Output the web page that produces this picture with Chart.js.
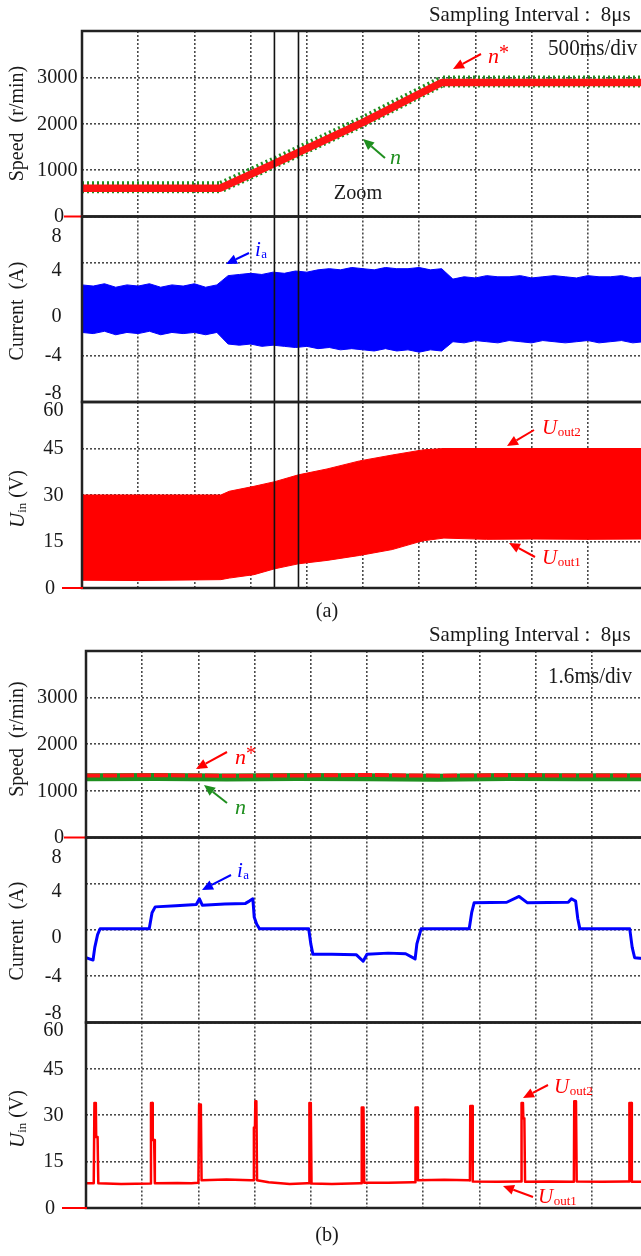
<!DOCTYPE html>
<html><head><meta charset="utf-8">
<script src="https://cdn.jsdelivr.net/npm/chart.js@4.4.1/dist/chart.umd.min.js"></script>
<style>
html,body{margin:0;padding:0;background:#fff;overflow:hidden;}
#wrap{position:relative;width:641px;height:1256px;overflow:hidden;background:#fff;}
#wrap canvas{position:absolute;left:0;top:0;}
</style></head><body>
<div id="wrap">
<canvas id="aSpeed" width="700" height="1256"></canvas>
<canvas id="aCurrent" width="700" height="1256"></canvas>
<canvas id="aVolt" width="700" height="1256"></canvas>
<canvas id="bSpeed" width="700" height="1256"></canvas>
<canvas id="bCurrent" width="700" height="1256"></canvas>
<canvas id="bVolt" width="700" height="1256"></canvas>
</div>
<script>
// ================= DATA =================
// ---- figure (a): 500 ms/div, time in ms ----
const gridTimeA = [0,500,1000,1500,2000,2500,3000,3500,4000,4500,5000];
const speedTimeA = [0, 1230, 1710, 2500, 3200, 5000];
const speedRefA  = [610, 610, 1140, 2030, 2890, 2890];   // n*
const speedMeasA = [630, 630, 1160, 2050, 2910, 2910];   // n
const currentTimeA = [0,100,200,300,400,500,600,700,800,900,1000,1100,1200,1300,1400,1500,1600,1700,1800,1900,2000,2100,2200,2300,2400,2500,2600,2700,2800,2900,3000,3100,3200,3300,3400,3500,3600,3700,3800,3900,4000,4100,4200,4300,4400,4500,4600,4700,4800,4900,5000];
const currentUpperA = [2.1,2.0,2.2,1.9,2.1,2.0,2.2,1.9,2.1,2.0,2.2,1.9,2.1,2.9,3.0,3.1,3.0,3.2,3.1,3.3,3.2,3.4,3.5,3.4,3.6,3.5,3.4,3.6,3.5,3.5,3.6,3.4,3.5,2.6,2.8,2.7,2.9,2.8,2.8,2.9,2.7,2.8,2.9,2.8,2.7,2.9,2.8,2.8,2.9,2.7,2.8];
const currentLowerA = [-2.0,-2.1,-1.9,-2.2,-2.0,-2.1,-1.9,-2.2,-2.0,-2.1,-2.0,-2.2,-2.0,-3.0,-3.1,-3.0,-3.2,-3.1,-3.2,-3.3,-3.2,-3.4,-3.3,-3.5,-3.4,-3.5,-3.6,-3.4,-3.6,-3.5,-3.7,-3.5,-3.6,-2.8,-2.9,-2.7,-2.8,-2.9,-2.7,-2.8,-2.9,-2.7,-2.8,-2.9,-2.8,-2.7,-2.9,-2.8,-2.7,-2.9,-2.8];
const voltTimeA  = [0, 500, 1000, 1235, 1310, 1530, 1715, 1925, 2180, 2470, 2760, 2990, 3050, 3220, 3600, 4000, 4500, 5000];
const voltUpperA = [30, 30, 30, 30, 31.2, 32.8, 34.3, 36.5, 38.4, 41, 42.9, 44.3, 44.6, 45, 45, 45, 45, 45];   // Uout2
const voltLowerA = [2.5, 2.4, 2.6, 2.7, 3.2, 4.3, 6.2, 7.8, 8.9, 10.5, 12.4, 14.8, 15.3, 16.1, 15.7, 15.8, 15.7, 15.8]; // Uout1
const zoomWindowA = [1712, 1926];

// ---- figure (b): 1.6 ms/div, time in ms ----
const gridTimeB = [0,1.6,3.2,4.8,6.4,8,9.6,11.2,12.8,14.4,16];
const speedTimeB = [0,2,4,6,8,10,12,14,16];
const speedRefB  = [1330,1335,1325,1330,1340,1325,1335,1330,1330];  // n*
const speedMeasB = [1290,1295,1285,1300,1290,1280,1295,1290,1290];  // n
const iaTimeB = [0,0.2,0.25,0.33,0.4,1.80,1.88,1.97,2.56,3.14,3.23,3.31,3.95,4.54,4.65,4.75,4.79,4.86,4.94,6.34,6.40,6.46,7.0,7.7,7.89,8.0,8.6,9.1,9.37,9.42,9.54,10.91,10.98,11.05,11.98,12.33,12.57,13.73,13.82,13.94,14.0,14.06,15.48,15.55,15.62,16];
const iaValB  = [-2.4,-2.6,-1.5,-0.4,0.1,0.1,1.5,2.0,2.1,2.2,2.7,2.15,2.25,2.3,2.5,2.7,1.1,0.5,0.1,0.1,-1.2,-2.1,-2.1,-2.15,-2.7,-2.1,-2.0,-2.05,-2.5,-1.2,0.1,0.1,1.5,2.35,2.4,2.9,2.35,2.4,2.7,2.5,1.0,0.1,0.1,-1.5,-2.4,-2.5];
const uTimeB = [0,0.22,0.24,0.28,0.29,0.33,0.35,1.0,1.83,1.85,1.89,1.90,1.94,1.96,2.6,3.0,3.20,3.22,3.27,3.29,4.0,4.7,4.77,4.78,4.81,4.82,4.85,4.87,5.2,5.8,6.3,6.35,6.36,6.40,6.42,7.0,7.8,7.84,7.85,7.90,7.92,8.6,9.3,9.37,9.38,9.43,9.45,10.2,10.9,10.93,10.94,10.99,11.01,11.7,12.35,12.39,12.40,12.44,12.45,12.48,12.50,13.2,13.85,13.89,13.90,13.95,13.97,14.7,15.4,15.46,15.47,15.52,15.54,16];
const uValB  = [8.0,8.0,34,34,23,23,8.0,7.8,7.9,34,34,22,22,8.0,8.1,8.0,8.2,33.5,33.5,9.0,9.2,9.0,9.0,26,26,34.5,34.5,9.0,8.3,7.8,8.0,8.0,34,34,7.9,7.8,8.0,8.0,32.5,32.5,8.2,8.2,8.3,8.3,32.5,32.5,9.0,9.1,9.0,8.9,33,33,8.6,8.5,8.6,8.6,34,34,29,29,8.5,8.6,8.5,8.5,34.5,34.5,8.6,8.5,8.6,8.6,34,34,8.5,8.5];

// ---- axis ticks ----
const speedTicks = [0,1000,2000,3000,4000];
const speedLabels = [0,1000,2000,3000];
const currentTicks = [-8,-4,0,4,8];
const currentLabels = [8,4,0,-4,-8];
const voltTicks = [0,15,30,45,60];
const voltLabels = [60,45,30,15,0];

// ================= DRAWING =================
const W = 700, H = 1256;
const FONT = '"Liberation Serif","Times New Roman",serif';
const RED = '#ff0000', BLUE = '#0000ff', GREEN = '#1f8f1f';

function pts(t, v){ return t.map((x,i)=>({x:x, y:v[i]})); }

// text helper; hs = horizontal squeeze of the glyphs
function T(ctx, s, x, y, o){
  o = o || {};
  const hs = o.hs || 1;
  ctx.save();
  ctx.font = (o.style||'') + ' ' + (o.size||20) + 'px ' + FONT;
  ctx.fillStyle = o.color || '#1a1a1a';
  ctx.textAlign = o.align || 'left';
  ctx.textBaseline = o.base || 'middle';
  ctx.translate(x, y); ctx.scale(hs, 1);
  ctx.fillText(s, 0, 0);
  const w = ctx.measureText(s).width * hs;
  ctx.restore();
  return w;
}
const TICK = {size:22, hs:0.92};
function subLabel(ctx, main, sub, x, y, color){
  const w = T(ctx, main, x, y, {size:21, style:'italic', color:color});
  T(ctx, sub, x + w + 0.5, y + 5, {size:13, color:color});
}
function starLabel(ctx, x, y, color){
  const w = T(ctx, 'n', x, y, {size:22, style:'italic', color:color});
  T(ctx, '*', x + w, y - 3, {size:20, color:color});
}
function arrow(ctx, x1, y1, x2, y2, color){
  const a = Math.atan2(y2-y1, x2-x1), L = 11, Wd = 5;
  const bx = x2 - L*Math.cos(a), by = y2 - L*Math.sin(a);
  ctx.strokeStyle = color; ctx.lineWidth = 2;
  ctx.beginPath(); ctx.moveTo(x1,y1); ctx.lineTo(bx,by); ctx.stroke();
  ctx.fillStyle = color; ctx.beginPath();
  ctx.moveTo(x2,y2);
  ctx.lineTo(bx + Wd*Math.sin(a), by - Wd*Math.cos(a));
  ctx.lineTo(bx - Wd*Math.sin(a), by + Wd*Math.cos(a));
  ctx.closePath(); ctx.fill();
}
function vTitle(ctx, parts, cx, cy){
  ctx.save(); ctx.translate(cx, cy); ctx.rotate(-Math.PI/2);
  let total = 0;
  parts.forEach(p=>{ ctx.font=(p.style||'')+' '+p.size+'px '+FONT; p.w = ctx.measureText(p.s).width; total += p.w; });
  let x = -total/2;
  parts.forEach(p=>{ T(ctx, p.s, x, p.dy||0, {size:p.size, style:p.style}); x += p.w; });
  ctx.restore();
}
function frame(chart, ctx){
  const a = chart.chartArea;
  ctx.strokeStyle = '#222'; ctx.lineWidth = 2.5;
  ctx.strokeRect(a.left, a.top, a.right-a.left, a.bottom-a.top);
}
function zeroMark(chart, ctx, x0){
  const y = chart.scales.y.getPixelForValue(0), a = chart.chartArea;
  ctx.strokeStyle = RED; ctx.lineWidth = 2;
  ctx.beginPath(); ctx.moveTo(x0, y); ctx.lineTo(a.left + 1, y); ctx.stroke();
}
function speedLabelsDraw(chart, ctx){
  const s = chart.scales.y;
  speedLabels.forEach(v=>{
    const y = s.getPixelForValue(v);
    if (v === 0) T(ctx, String(v), 59, y, Object.assign({align:'center'}, TICK));
    else T(ctx, String(v), 77.5, y, Object.assign({align:'right'}, TICK));
  });
}
function currentLabelsDraw(chart, ctx){
  const s = chart.scales.y, dy = {'8':20, '4':7, '0':7, '-4':0, '-8':-9};
  currentLabels.forEach(v=>{ T(ctx, String(v), 61.5, s.getPixelForValue(v) + dy[String(v)], Object.assign({align:'right'}, TICK)); });
}
function voltLabelsDraw(chart, ctx){
  const s = chart.scales.y;
  voltLabels.forEach(v=>{
    const y = s.getPixelForValue(v);
    if (v === 0) T(ctx, '0', 50, y, Object.assign({align:'center'}, TICK));
    else T(ctx, String(v), 63.5, y + (v === 60 ? 8 : 0), Object.assign({align:'right'}, TICK));
  });
}
function zoomBox(chart, ctx, top, bottom){
  const a = chart.chartArea, sx = chart.scales.x;
  const x1 = sx.getPixelForValue(zoomWindowA[0]), x2 = sx.getPixelForValue(zoomWindowA[1]);
  ctx.strokeStyle = '#111'; ctx.lineWidth = 1.6;
  ctx.beginPath();
  ctx.moveTo(x1, a.top); ctx.lineTo(x1, a.bottom);
  ctx.moveTo(x2, a.top); ctx.lineTo(x2, a.bottom);
  if (top) { ctx.moveTo(x1, a.top); ctx.lineTo(x2, a.top); }
  if (bottom) { ctx.moveTo(x1, a.bottom); ctx.lineTo(x2, a.bottom); }
  ctx.stroke();
}

function makeChart(id, box, xMax, xGrid, yMin, yMax, yGrid, datasets, deco){
  return new Chart(document.getElementById(id), {
    type: 'line',
    data: { datasets: datasets },
    options: {
      responsive: false, animation: false, events: [],
      layout: { padding: { left: box.l, top: box.t, right: W - box.r, bottom: H - box.b } },
      plugins: { legend: {display:false}, tooltip: {enabled:false}, title: {display:false} },
      elements: { point: {radius:0}, line: {tension:0, borderJoinStyle:'round'} },
      scales: {
        x: { type:'linear', min:0, max:xMax,
             afterBuildTicks: s=>{ s.ticks = xGrid.map(v=>({value:v})); },
             afterFit: s=>{ s.height = 0; },
             ticks: {display:false},
             grid: {color:'#4a4a4a', lineWidth:1.6, drawTicks:false},
             border: {display:false, dash:[2,2]} },
        y: { type:'linear', min:yMin, max:yMax,
             afterBuildTicks: s=>{ s.ticks = yGrid.map(v=>({value:v})); },
             afterFit: s=>{ s.width = 0; },
             ticks: {display:false},
             grid: {color:'#4a4a4a', lineWidth:1.6, drawTicks:false},
             border: {display:false, dash:[2,2]} }
      }
    },
    plugins: [{ id:'deco', afterDraw(chart){ const ctx = chart.ctx; ctx.save(); deco(chart, ctx); ctx.restore(); } }]
  });
}

const boxA = {l:82, r:644}, boxB = {l:86, r:648};
const INFO = {size:22, hs:0.95};
const DIV = {size:23, hs:0.92};

// ----- (a) speed -----
makeChart('aSpeed', {l:boxA.l, r:boxA.r, t:31, b:216.5}, 5000, gridTimeA, 0, 4000, speedTicks, [
  {data: pts(speedTimeA, speedRefA), borderColor:'#ff1414', borderWidth:7.5, fill:false},
  {data: pts(speedTimeA, speedMeasA), borderColor:GREEN, borderWidth:12, borderDash:[2,3], fill:false}
], (c, ctx)=>{
  zoomBox(c, ctx, true, false);
  frame(c, ctx);
  speedLabelsDraw(c, ctx);
  zeroMark(c, ctx, 64);
  vTitle(ctx, [{s:'Speed  (r/min)', size:20}], 18, 123.5);
  T(ctx, 'Sampling Interval :  8\u03bcs', 429, 15.5, INFO);
  T(ctx, '500ms/div', 548, 49, DIV);
  arrow(ctx, 481, 54, 453, 69, RED); starLabel(ctx, 488, 57, RED);
  arrow(ctx, 385, 158, 363, 139, GREEN); T(ctx, 'n', 390, 158, {size:22, style:'italic', color:GREEN});
  T(ctx, 'Zoom', 358, 193, {size:22, hs:0.92, align:'center'});
});

// ----- (a) current -----
makeChart('aCurrent', {l:boxA.l, r:boxA.r, t:216.5, b:402}, 5000, gridTimeA, -8, 8, currentTicks, [
  {data: pts(currentTimeA, currentUpperA), borderColor:BLUE, borderWidth:1, backgroundColor:BLUE, fill:'+1'},
  {data: pts(currentTimeA, currentLowerA), borderColor:BLUE, borderWidth:1, fill:false}
], (c, ctx)=>{
  zoomBox(c, ctx, false, false);
  frame(c, ctx);
  currentLabelsDraw(c, ctx);
  vTitle(ctx, [{s:'Current  (A)', size:20}], 18, 311);
  arrow(ctx, 249, 253, 226, 264, BLUE); subLabel(ctx, 'i', 'a', 255, 250, BLUE);
});

// ----- (a) voltage -----
makeChart('aVolt', {l:boxA.l, r:boxA.r, t:402, b:588}, 5000, gridTimeA, 0, 60, voltTicks, [
  {data: pts(voltTimeA, voltUpperA), borderColor:RED, borderWidth:1, backgroundColor:RED, fill:'+1'},
  {data: pts(voltTimeA, voltLowerA), borderColor:RED, borderWidth:1, fill:false}
], (c, ctx)=>{
  zoomBox(c, ctx, false, true);
  frame(c, ctx);
  voltLabelsDraw(c, ctx);
  zeroMark(c, ctx, 62);
  vTitle(ctx, [{s:'U', size:21, style:'italic'}, {s:'in', size:13, dy:5}, {s:' (V)', size:20}], 18, 499);
  arrow(ctx, 534, 430, 507, 446, RED); subLabel(ctx, 'U', 'out2', 542, 428, RED);
  arrow(ctx, 535, 557, 509, 543, RED); subLabel(ctx, 'U', 'out1', 542, 558, RED);
  T(ctx, '(a)', 327, 611, {size:22, hs:0.92, align:'center'});
});

// ----- (b) speed -----
makeChart('bSpeed', {l:boxB.l, r:boxB.r, t:651, b:837.5}, 16, gridTimeB, 0, 4000, speedTicks, [
  {data: pts(speedTimeB, speedRefB), borderColor:'#ff1414', borderWidth:4, borderDash:[14,3], fill:false},
  {data: pts(speedTimeB, speedMeasB), borderColor:GREEN, borderWidth:8, fill:false}
], (c, ctx)=>{
  frame(c, ctx);
  speedLabelsDraw(c, ctx);
  zeroMark(c, ctx, 64);
  vTitle(ctx, [{s:'Speed  (r/min)', size:20}], 18, 739);
  T(ctx, 'Sampling Interval :  8\u03bcs', 429, 635.5, INFO);
  T(ctx, '1.6ms/div', 548, 676.5, DIV);
  arrow(ctx, 227, 752, 196, 769, RED); starLabel(ctx, 235, 758, RED);
  arrow(ctx, 227, 803, 204, 785, GREEN); T(ctx, 'n', 235, 808, {size:22, style:'italic', color:GREEN});
});

// ----- (b) current -----
makeChart('bCurrent', {l:boxB.l, r:boxB.r, t:837.5, b:1022.5}, 16, gridTimeB, -8, 8, currentTicks, [
  {data: pts(iaTimeB, iaValB), borderColor:BLUE, borderWidth:3, fill:false}
], (c, ctx)=>{
  frame(c, ctx);
  currentLabelsDraw(c, ctx);
  vTitle(ctx, [{s:'Current  (A)', size:20}], 18, 931);
  arrow(ctx, 231, 875, 202, 890, BLUE); subLabel(ctx, 'i', 'a', 237, 871, BLUE);
});

// ----- (b) voltage -----
makeChart('bVolt', {l:boxB.l, r:boxB.r, t:1022.5, b:1208}, 16, gridTimeB, 0, 60, voltTicks, [
  {data: pts(uTimeB, uValB), borderColor:RED, borderWidth:2.5, fill:false}
], (c, ctx)=>{
  frame(c, ctx);
  voltLabelsDraw(c, ctx);
  zeroMark(c, ctx, 62);
  vTitle(ctx, [{s:'U', size:21, style:'italic'}, {s:'in', size:13, dy:5}, {s:' (V)', size:20}], 18, 1119);
  arrow(ctx, 548, 1085, 523, 1098, RED); subLabel(ctx, 'U', 'out2', 554, 1087, RED);
  arrow(ctx, 533, 1197, 503, 1186, RED); subLabel(ctx, 'U', 'out1', 538, 1197, RED);
  T(ctx, '(b)', 327, 1235, {size:22, hs:0.92, align:'center'});
});
</script>
</body></html>
